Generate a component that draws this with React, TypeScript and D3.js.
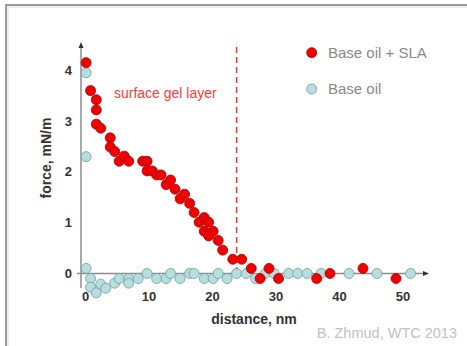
import React from 'react'
import * as d3 from 'd3'

// Base oil + SLA (distance nm, force mN/m)
const slaX = [0.1, 0.8, 1.7, 1.7, 1.7, 2.4, 3.9, 3.9, 4.6, 5.3, 6.1, 6.8, 9.0, 9.7, 9.7, 10.5, 11.2, 11.9, 12.7, 13.4, 14.1, 14.9, 15.6, 16.4, 17.1, 17.9, 18.7, 18.7, 19.4, 19.4, 20.1, 20.9, 21.6, 23.2, 24.6, 26.1, 27.5, 28.9, 30.4, 36.4, 38.5, 43.7, 48.9]
const slaY = [4.15, 3.6, 3.42, 3.22, 2.94, 2.86, 2.67, 2.49, 2.4, 2.21, 2.31, 2.21, 2.21, 2.21, 2.02, 2.02, 1.94, 1.94, 1.75, 1.84, 1.66, 1.47, 1.56, 1.38, 1.2, 1.01, 1.1, 0.83, 1.01, 0.74, 0.83, 0.65, 0.46, 0.28, 0.28, 0.1, -0.1, 0.1, -0.1, -0.1, 0, 0.1, -0.1]

// Base oil
const baseX = [0.1, 0.1, 0.1, 0.8, 0.8, 1.7, 2.4, 3.2, 4.6, 5.3, 6.8, 6.8, 8.3, 9.7, 11.2, 12.7, 13.4, 14.9, 16.4, 17.1, 18.7, 20.1, 20.9, 22.3, 23.8, 25.3, 26.8, 28.3, 29.7, 32.0, 33.4, 34.9, 37.1, 41.5, 45.9, 51.2]
const baseY = [3.95, 2.3, 0.1, -0.1, -0.27, -0.38, -0.21, -0.29, -0.19, -0.1, -0.1, -0.19, -0.1, 0, -0.1, -0.1, 0, -0.1, 0, 0, -0.1, -0.1, 0, -0.1, 0, 0, -0.1, 0, 0, 0, 0, 0, 0, 0, 0, 0]

const xTicks = [0, 10, 20, 30, 40, 50]
const yTicks = [0, 1, 2, 3, 4]
const gelBoundary = 23.8

const W = 467
const H = 346
const font = '"Liberation Sans", Arial, sans-serif'

export default function App() {
  const x = d3.scaleLinear().domain([0, 50]).range([85.5, 403])
  const y = d3.scaleLinear().domain([0, 4]).range([273.5, 70.3])
  const axisColor = '#8c8c8c'
  const red = '#f00000'
  const redStroke = '#a80000'
  const blue = '#b6dede'
  const blueStroke = '#6f9c9c'
  const r = 5

  const sla = slaX.map((d, i) => ({ x: d, y: slaY[i] }))
  const base = baseX.map((d, i) => ({ x: d, y: baseY[i] }))

  return (
    <svg width={W} height={H} style={{ position: 'absolute', left: 0, top: 0 }} fontFamily={font}>
      <rect width={W} height={H} fill="#fff" />
      {/* slide frame */}
      <path d={`M6,${H} V5 H${W}`} fill="none" stroke="#9a9a9a" strokeWidth={2} />
      <path d={`M8,${H} V7 H${W}`} fill="none" stroke="#dcdcdc" strokeWidth={1} />

      {/* axes */}
      <line x1={81} x2={81} y1={46} y2={288} stroke={axisColor} strokeWidth={1.5} />
      <path d="M81,42 L78.5,48 L83.5,48 Z" fill="#333" />
      <line x1={77} x2={425} y1={y(0)} y2={y(0)} stroke={axisColor} strokeWidth={1.5} />
      <path d={`M429,${y(0)} L423,${y(0) - 2.5} L423,${y(0) + 2.5} Z`} fill="#333" />

      {xTicks.map(t => (
        <text key={t} x={x(t)} y={301} textAnchor="middle" fontSize={13} fontWeight="bold" fill="#333">{t}</text>
      ))}
      {yTicks.map(t => (
        <text key={t} x={72} y={y(t) + 4.5} textAnchor="end" fontSize={13} fontWeight="bold" fill="#333">{t}</text>
      ))}

      <text x={254} y={324} textAnchor="middle" fontSize={14} fontWeight="bold" fill="#333">distance, nm</text>
      <text transform="translate(51,158) rotate(-90)" textAnchor="middle" fontSize={14} fontWeight="bold" fill="#333">force, mN/m</text>

      {/* gel layer boundary */}
      <line x1={x(gelBoundary)} x2={x(gelBoundary)} y1={47} y2={273} stroke="#f03030" strokeWidth={1.5} strokeDasharray="6,4" />
      <text x={114} y={98} fontSize={14} fill="#ff3b3b">surface gel layer</text>

      {base.map((d, i) => (
        <circle key={'b' + i} cx={x(d.x)} cy={y(d.y)} r={r} fill={blue} stroke={blueStroke} strokeWidth={0.8} />
      ))}
      {sla.map((d, i) => (
        <circle key={'s' + i} cx={x(d.x)} cy={y(d.y)} r={r} fill={red} stroke={redStroke} strokeWidth={0.8} />
      ))}

      {/* legend */}
      <circle cx={311.7} cy={52.7} r={5} fill={red} stroke={redStroke} strokeWidth={0.8} />
      <text x={328} y={58} fontSize={15} fill="#8a8a8a">Base oil + SLA</text>
      <circle cx={311.7} cy={89} r={5} fill={blue} stroke={blueStroke} strokeWidth={0.8} />
      <text x={328} y={94} fontSize={15} fill="#8a8a8a">Base oil</text>

      <text x={457} y={338} textAnchor="end" fontSize={14.5} fill="#c2c2c2">B. Zhmud, WTC 2013</text>
    </svg>
  )
}
